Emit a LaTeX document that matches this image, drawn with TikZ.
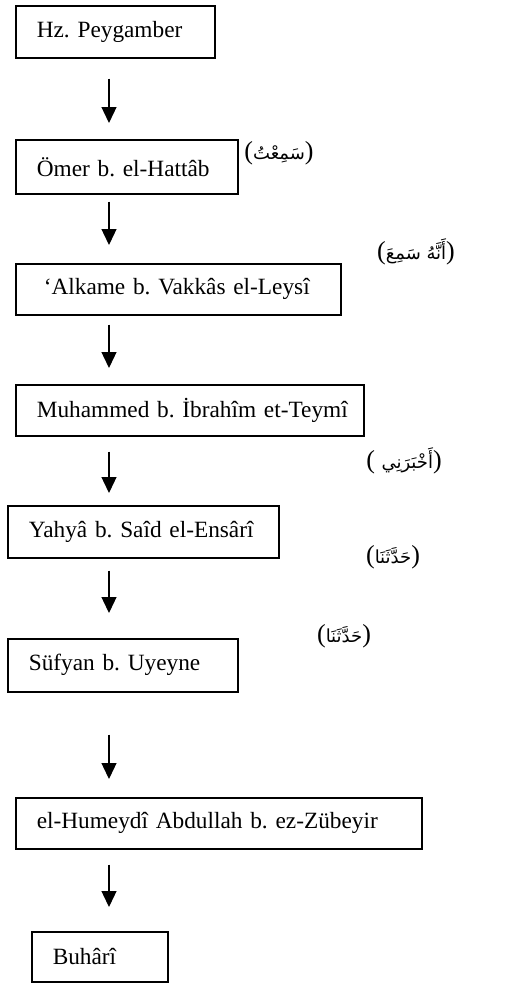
\documentclass[tikz,border=0pt]{standalone}
\usepackage{fontspec}
\setmainfont{Liberation Serif}
\newfontfamily\arabicfont[Script=Arabic]{DejaVu Sans}
\TeXXeTstate=1
\usepackage{tikz}
\usetikzlibrary{arrows.meta,positioning,calc}

\newcommand{\artxt}[1]{{\arabicfont\fontsize{18}{21}\selectfont\beginR #1\endR}}

\tikzset{
  person/.style={draw, line width=1.6pt, anchor=north west, align=left,
    inner xsep=21pt, inner ysep=0pt, minimum height=52pt},
  flow/.style={line width=1.3pt, -{Triangle[width=15pt,length=16pt]}},
  chain/.style={font=\fontsize{26}{30}\selectfont}
}

\begin{document}
\frenchspacing
\begin{tikzpicture}[x=1pt, y=-1pt, font=\fontsize{23.3}{28}\selectfont]
        \useasboundingbox (0,0) rectangle (507,983);
        % narrators, top to bottom
        \node (hz) [person, text width=157pt] at (15,5) {\mbox{Hz. Peygamber}};
        \node (omer) [person, text width=180pt, minimum height=54pt] at (15,139) {\mbox{Ömer b. el-Hattâb}};
        \node (alkame) [person, text width=283pt, minimum height=51pt] at (15,263) {\mbox{\hspace*{7pt}‘Alkame b. Vakkâs el-Leysî}};
        \node (muhammed) [person, text width=306pt, minimum height=51pt] at (15,384) {\mbox{Muhammed b. İbrahîm et-Teymî}};
        \node (yahya) [person, text width=229pt] at (7,505) {\mbox{Yahyâ b. Saîd el-Ensârî}};
        \node (sufyan) [person, text width=188pt, minimum height=53pt] at (7,638) {\mbox{Süfyan b. Uyeyne}};
        \node (humeydi) [person, text width=364pt, minimum height=51pt] at (15,797) {\mbox{el-Humeydî Abdullah b. ez-Zübeyir}};
        \node (buhari) [person, text width=94pt, minimum height=50pt] at (31,931) {\mbox{Buhârî}};
        % transmission words
        \node (semitu) [chain] at (279,153) {(\artxt{سَمِعْتُ})};
        \node (ennehu) [chain] at (416,252) {(\artxt{أَنَّهُ سَمِعَ})};
        \node (ahberani) [chain] at (404,461) {( \artxt{أَخْبَرَنِي})};
        \node (haddesena1) [chain] at (393,557) {(\artxt{حَدَّثَنَا})};
        \node (haddesena2) [chain] at (344,636) {(\artxt{حَدَّثَنَا})};
        % arrows all run down one line
        \coordinate (ax) at (109,0);
        \foreach \a/\b/\s/\e in {hz/omer/20/16, omer/alkame/7/18, alkame/muhammed/9/16,
            muhammed/yahya/15/12, yahya/sufyan/12/25, sufyan/humeydi/42/18, humeydi/buhari/15/24}
            \draw[flow] ([yshift=-\s pt]\a.south -| ax) -- ([yshift=\e pt]\b.north -| ax);
    \end{tikzpicture}
\end{document}
